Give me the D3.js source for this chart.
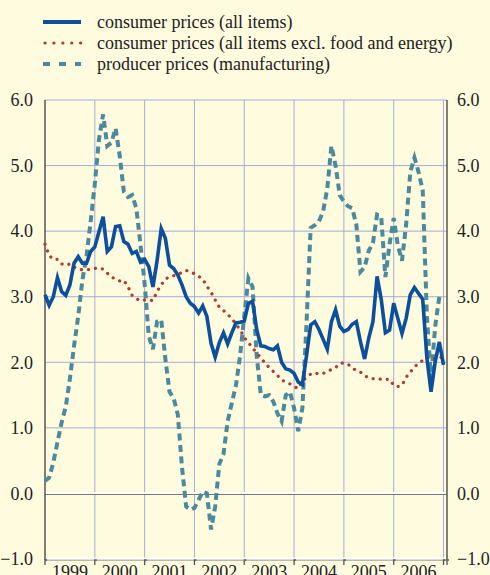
<!DOCTYPE html>
<html><head><meta charset="utf-8">
<script src="https://cdn.jsdelivr.net/npm/d3@7"></script>
<style>
html,body{margin:0;padding:0;background:#fefbdf;}
svg{display:block;}
text{font-family:"Liberation Serif","Times New Roman",serif;fill:#222;}
</style>
</head><body>
<svg id="chart" width="490" height="575"></svg>
<script>
// ---- data (monthly, Jan 1999 .. Jan 2007), annual % changes ----
const yearLabels = ["1999","2000","2001","2002","2003","2004","2005","2006"];
const yTicks = [-1, 0, 1, 2, 3, 4, 5, 6];
const seriesNames = [
  "consumer prices (all items)",
  "consumer prices (all items excl. food and energy)",
  "producer prices (manufacturing)"
];
const cpiAll = [3.03,2.87,3.0,3.29,3.08,3.02,3.18,3.51,3.61,3.51,3.51,3.69,
  3.76,3.99,4.22,3.69,3.76,4.07,4.08,3.84,3.80,3.66,3.69,3.53,
  3.57,3.46,3.15,3.55,4.04,3.89,3.48,3.43,3.33,3.18,3.0,2.9,
  2.85,2.75,2.86,2.7,2.29,2.08,2.3,2.45,2.28,2.45,2.6,2.61,
  2.63,2.9,2.93,2.5,2.25,2.24,2.21,2.19,2.25,2.0,1.9,1.88,
  1.83,1.70,1.66,2.1,2.57,2.62,2.5,2.35,2.2,2.62,2.8,2.55,
  2.47,2.5,2.58,2.62,2.31,2.05,2.37,2.62,3.31,2.96,2.45,2.49,
  2.9,2.67,2.44,2.67,3.03,3.14,3.05,2.96,2.06,1.55,2.01,2.31,
  1.96];
const cpiCore = [3.80,3.63,3.57,3.57,3.50,3.48,3.50,3.45,3.42,3.41,3.41,3.42,
  3.43,3.44,3.42,3.36,3.30,3.27,3.24,3.25,3.15,3.02,2.97,2.94,
  2.95,2.95,2.94,3.08,3.18,3.27,3.30,3.32,3.34,3.37,3.40,3.38,
  3.35,3.31,3.27,3.16,3.07,2.95,2.84,2.79,2.73,2.67,2.58,2.50,
  2.38,2.30,2.22,2.14,2.07,1.99,1.92,1.86,1.80,1.73,1.70,1.67,
  1.63,1.60,1.71,1.77,1.82,1.84,1.82,1.83,1.86,1.89,1.92,1.98,
  1.99,1.97,1.92,1.87,1.85,1.80,1.76,1.75,1.75,1.74,1.74,1.74,
  1.65,1.63,1.65,1.77,1.85,1.93,1.98,2.03,2.06,2.08,2.05,2.05,
  2.11];
const ppiManuf = [0.19,0.24,0.47,0.78,1.08,1.32,1.75,2.25,2.70,3.25,3.62,4.15,
  4.72,5.40,5.78,5.30,5.35,5.57,5.15,4.60,4.52,4.55,4.35,3.80,
  3.20,2.40,2.20,2.62,2.65,2.05,1.55,1.45,1.2,0.4,-0.2,-0.25,
  -0.22,-0.1,0.03,0.0,-0.55,-0.2,0.45,0.6,1.1,1.38,1.65,2.1,
  2.7,3.28,3.15,2.1,1.5,1.48,1.5,1.4,1.22,1.1,1.5,1.55,
  1.3,0.95,1.3,2.6,4.05,4.09,4.15,4.3,4.65,5.3,5.0,4.55,
  4.45,4.38,4.35,4.1,3.38,3.45,3.7,3.82,4.25,4.22,3.3,3.8,
  4.2,3.78,3.55,4.1,4.9,5.12,4.9,4.62,2.7,1.75,2.55,3.0,
  3.0];

// ---- layout ----
const svg = d3.select("#chart");
const pL = 45, pR = 447, pT = 100, pB = 559;
const x = d3.scaleLinear().domain([0, 96]).range([pL, 443.5]);
const y = d3.scaleLinear().domain([-1, 6]).range([pB, pT]);

const gridColor = "#a4acd8";
const yearStarts = d3.range(0, 97, 12);
svg.append("g").selectAll("line").data(yearStarts.slice(1)).join("line")
  .attr("x1", d => x(d)).attr("x2", d => x(d))
  .attr("y1", pT).attr("y2", pB)
  .attr("stroke", gridColor).attr("stroke-width", 1);
svg.append("g").selectAll("line").data(yTicks.filter(d => d !== 0 && d !== -1)).join("line")
  .attr("x1", pL).attr("x2", pR)
  .attr("y1", d => y(d)).attr("y2", d => y(d))
  .attr("stroke", gridColor).attr("stroke-width", 1);

// zero line (white with grey shadow)
svg.append("line").attr("x1", pL).attr("x2", pR)
  .attr("y1", y(0) + 1).attr("y2", y(0) + 1).attr("stroke", "#777").attr("stroke-width", 1.2);
svg.append("line").attr("x1", pL).attr("x2", pR)
  .attr("y1", y(0) - 0.5).attr("y2", y(0) - 0.5).attr("stroke", "#ffffff").attr("stroke-width", 2);

// bottom axis
svg.append("line").attr("x1", pL).attr("x2", pR)
  .attr("y1", pB + 1).attr("y2", pB + 1).attr("stroke", "#777").attr("stroke-width", 1);
svg.append("line").attr("x1", pL).attr("x2", pR)
  .attr("y1", pB - 0.5).attr("y2", pB - 0.5).attr("stroke", "#ffffff").attr("stroke-width", 2);
svg.append("g").selectAll("path").data(yearStarts.concat([96.85])).join("path")
  .attr("d", d => `M${x(d) + 2},${pB + 1}H${x(d)}V${pB + 6}`)
  .attr("fill", "none").attr("stroke", "#555").attr("stroke-width", 1.3);

// side axes
svg.append("line").attr("x1", pL).attr("x2", pL).attr("y1", pT).attr("y2", pB + 1)
  .attr("stroke", "#555").attr("stroke-width", 1.5);
svg.append("line").attr("x1", pR).attr("x2", pR).attr("y1", pT).attr("y2", pB + 1)
  .attr("stroke", "#555").attr("stroke-width", 1.5);

// tick labels
const fmt = d3.format(".1f");
svg.append("g").selectAll("text").data(yTicks).join("text")
  .attr("x", 33).attr("y", d => y(d)).attr("dy", "0.35em")
  .attr("text-anchor", "end").attr("font-size", 18).text(d => fmt(d));
svg.append("g").selectAll("text").data(yTicks).join("text")
  .attr("x", 457).attr("y", d => y(d)).attr("dy", "0.35em")
  .attr("text-anchor", "start").attr("font-size", 18).text(d => fmt(d));
svg.append("g").selectAll("text").data(yearLabels).join("text")
  .attr("x", (d, i) => x(i * 12 + 6)).attr("y", 578)
  .attr("text-anchor", "middle").attr("font-size", 18).text(d => d);

// lines
const line = d3.line().x((d, i) => x(i)).y(d => y(d));
svg.append("path").datum(ppiManuf).attr("d", line)
  .attr("fill", "none").attr("stroke", "#4b8a9c").attr("stroke-width", 4)
  .attr("stroke-dasharray", "7,4.5");
svg.append("path").datum(cpiCore).attr("d", line)
  .attr("fill", "none").attr("stroke", "#b23a30").attr("stroke-width", 3.2)
  .attr("stroke-linecap", "round").attr("stroke-dasharray", "0.1,7");
svg.append("path").datum(cpiAll).attr("d", line)
  .attr("fill", "none").attr("stroke", "#0b4f9d").attr("stroke-width", 3.6)
  .attr("stroke-linejoin", "miter");

// legend
const legendStyles = [
  {stroke: "#0b4f9d", width: 4, dash: null, cap: "butt"},
  {stroke: "#b23a30", width: 3.2, dash: "0.1,8.8", cap: "round"},
  {stroke: "#4b8a9c", width: 4, dash: "7,9", cap: "butt"}
];
const lg = svg.append("g").selectAll("g").data(seriesNames).join("g")
  .attr("transform", (d, i) => `translate(0,${22 + i * 21})`);
lg.append("line").attr("x1", (d, i) => i === 1 ? 45 : 43).attr("x2", 81).attr("y1", 0).attr("y2", 0)
  .attr("stroke", (d, i) => legendStyles[i].stroke)
  .attr("stroke-width", (d, i) => legendStyles[i].width)
  .attr("stroke-linecap", (d, i) => legendStyles[i].cap)
  .attr("stroke-dasharray", (d, i) => legendStyles[i].dash);
lg.append("text").attr("x", 97).attr("y", 0).attr("dy", "0.33em")
  .attr("font-size", 18).text(d => d);
</script>
</body></html>
